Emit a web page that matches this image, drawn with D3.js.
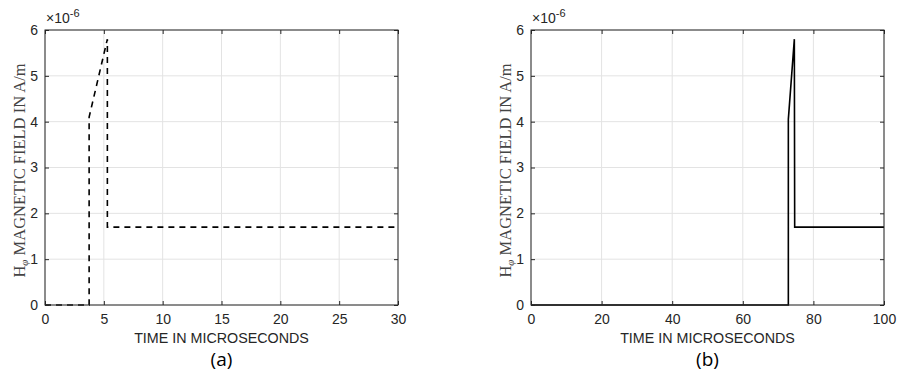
<!DOCTYPE html>
<html><head><meta charset="utf-8">
<script src="https://cdn.jsdelivr.net/npm/d3@7"></script>
<style>body{margin:0;background:#fff}svg{display:block}</style>
</head><body><svg id="c" width="897" height="371"></svg>
<script>
// Data (values in units of 1e-6 A/m, time in microseconds)
const timeA = [0, 3.75, 3.75, 5.3, 5.3, 30];
const fieldA = [0, 0, 4.1, 5.8, 1.7, 1.7];
const timeB = [0, 72.9, 72.9, 74.6, 74.7, 100];
const fieldB = [0, 0, 4.05, 5.8, 1.7, 1.7];
const xTicksA = [0, 5, 10, 15, 20, 25, 30];
const xTicksB = [0, 20, 40, 60, 80, 100];
const yTicks = [0, 1, 2, 3, 4, 5, 6];
const xLabel = "TIME IN MICROSECONDS";
const captions = ["(a)", "(b)"];

const svg = d3.select("#c");
const panels = [
  {left: 45, right: 398, xs: timeA, ys: fieldA, xt: xTicksA, xmax: 30, dash: "6,5", cap: captions[0]},
  {left: 531, right: 884, xs: timeB, ys: fieldB, xt: xTicksB, xmax: 100, dash: null, cap: captions[1]}
];
const pTop = 30, pBottom = 305;
const axisCol = "#262626";

panels.forEach(p => {
  const x = d3.scaleLinear().domain([0, p.xmax]).range([p.left, p.right]);
  const y = d3.scaleLinear().domain([0, 6]).range([pBottom, pTop]);
  const g = svg.append("g");
  // grid
  g.selectAll(".gx").data(p.xt).join("line")
    .attr("x1", d => x(d)).attr("x2", d => x(d)).attr("y1", pTop).attr("y2", pBottom)
    .attr("stroke", "#e3e3e3").attr("stroke-width", 1);
  g.selectAll(".gy").data(yTicks).join("line")
    .attr("y1", d => y(d)).attr("y2", d => y(d)).attr("x1", p.left).attr("x2", p.right)
    .attr("stroke", "#e3e3e3").attr("stroke-width", 1);
  // data line
  const pts = p.xs.map((t, i) => [t, p.ys[i]]);
  g.append("path").datum(pts)
    .attr("d", d3.line().x(d => x(d[0])).y(d => y(d[1])))
    .attr("fill", "none").attr("stroke", "#000").attr("stroke-width", 1.6)
    .attr("stroke-dasharray", p.dash);
  // axes
  const ax = (sel, axis) => { sel.call(axis); sel.select(".domain").remove();
    sel.selectAll("line").attr("stroke", axisCol);
    sel.selectAll("text").attr("fill", axisCol).style("font-family", "Liberation Sans, Arial, sans-serif").style("font-size", "14px"); };
  g.append("g").attr("transform", `translate(0,${pBottom})`)
    .call(s => ax(s, d3.axisBottom(x).tickValues(p.xt).tickSize(-4).tickPadding(9).tickFormat(d3.format("d"))));
  g.append("g").attr("transform", `translate(0,${pTop})`)
    .call(s => { ax(s, d3.axisTop(x).tickValues(p.xt).tickSize(-4).tickFormat("")); });
  g.append("g").attr("transform", `translate(${p.left},0)`)
    .call(s => ax(s, d3.axisLeft(y).tickValues(yTicks).tickSize(-4).tickPadding(7).tickFormat(d3.format("d"))));
  g.append("g").attr("transform", `translate(${p.right},0)`)
    .call(s => { ax(s, d3.axisRight(y).tickValues(yTicks).tickSize(-4).tickFormat("")); });
  g.append("rect").attr("x", p.left).attr("y", pTop).attr("width", p.right - p.left).attr("height", pBottom - pTop)
    .attr("fill", "none").attr("stroke", axisCol).attr("stroke-width", 1);
  // exponent
  const ex = g.append("text").attr("x", p.left + 1).attr("y", 23).attr("fill", axisCol)
    .style("font-family", "Liberation Sans, Arial, sans-serif").style("font-size", "14px");
  ex.append("tspan").text("\u00d710");
  ex.append("tspan").attr("dy", -6).style("font-size", "11px").text("-6");
  // x label
  g.append("text").attr("x", (p.left + p.right) / 2).attr("y", 343).attr("text-anchor", "middle")
    .attr("fill", axisCol).style("font-family", "Liberation Sans, Arial, sans-serif").style("font-size", "14.3px").text(xLabel);
  // caption
  g.append("text").attr("x", (p.left + p.right) / 2).attr("y", 366).attr("text-anchor", "middle")
    .attr("fill", "#000").style("font-family", "Open Sans, Noto Sans, sans-serif").style("font-size", "19px").text(p.cap);
  // y label (serif)
  const yl = g.append("text").attr("transform", `translate(${p.left - 20},${(pTop + pBottom) / 2 + 3}) rotate(-90)`)
    .attr("text-anchor", "middle").attr("fill", "#444")
    .style("font-family", "Liberation Serif, Times New Roman, serif").style("font-size", "16.5px");
  yl.append("tspan").text("H");
  yl.append("tspan").attr("dy", 3).style("font-size", "11px").style("font-style", "italic").text("\u03c6");
  yl.append("tspan").attr("dy", -3).text(" MAGNETIC FIELD IN A/m");
});
</script></body></html>
